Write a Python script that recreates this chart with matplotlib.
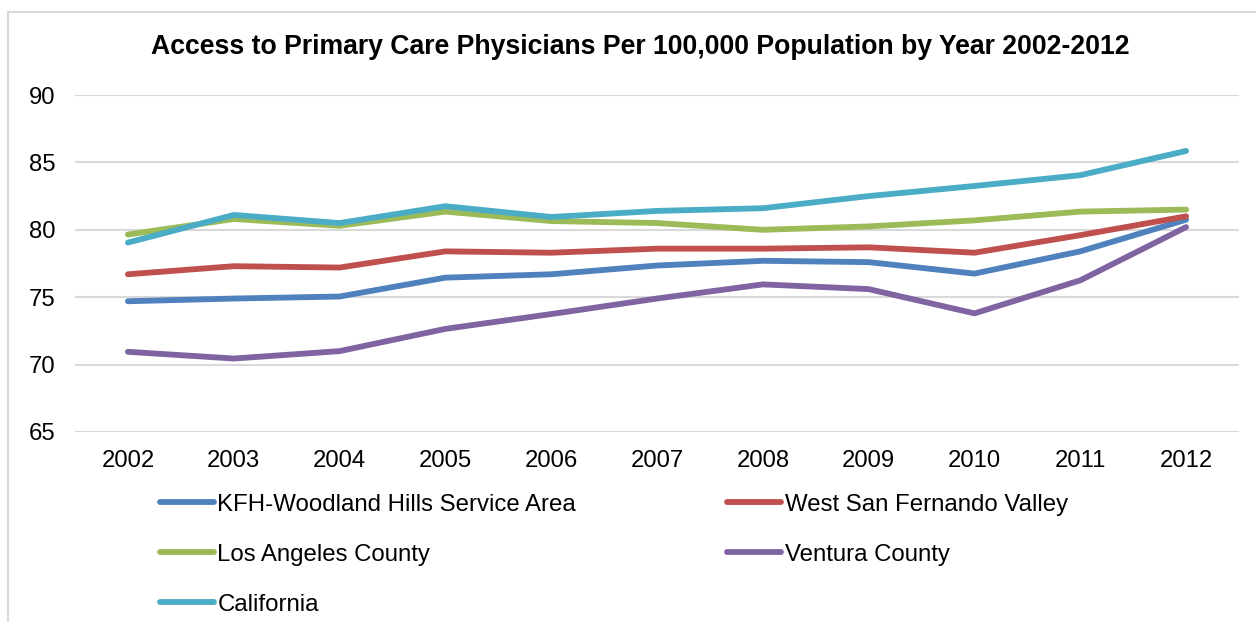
"""Primary care physicians per 100,000 population, 2002-2012."""
import matplotlib

matplotlib.use("Agg")
import matplotlib.pyplot as plt
from matplotlib.patches import Rectangle

plt.rcParams["font.family"] = ["Liberation Sans", "DejaVu Sans"]

YEARS = ["2002", "2003", "2004", "2005", "2006", "2007",
         "2008", "2009", "2010", "2011", "2012"]
KFH_WOODLAND_HILLS = [74.7, 74.9, 75.05, 76.45, 76.7, 77.35, 77.7, 77.6, 76.75, 78.4, 80.75]
WEST_SFV = [76.7, 77.3, 77.2, 78.4, 78.3, 78.6, 78.6, 78.7, 78.3, 79.6, 81.0]
LA_COUNTY = [79.65, 80.8, 80.3, 81.35, 80.65, 80.5, 80.0, 80.25, 80.7, 81.35, 81.5]
VENTURA = [70.95, 70.45, 71.0, 72.65, 73.75, 74.9, 75.95, 75.6, 73.8, 76.25, 80.2]
CALIFORNIA = [79.05, 81.1, 80.5, 81.75, 80.95, 81.4, 81.6, 82.5, 83.25, 84.05, 85.85]

SERIES = [
    ("KFH-Woodland Hills Service Area", KFH_WOODLAND_HILLS, "#4F81BD"),
    ("West San Fernando Valley", WEST_SFV, "#C0504D"),
    ("Los Angeles County", LA_COUNTY, "#9BBB59"),
    ("Ventura County", VENTURA, "#8064A2"),
    ("California", CALIFORNIA, "#4BACC6"),
]

W, H = 1256, 622
fig = plt.figure(figsize=(W / 100, H / 100), dpi=100)
ax = fig.add_axes([75 / W, 1 - 432 / H, 1164 / W, 337 / H])

# light chart border (top and left edges visible)
fig.patches.append(
    Rectangle((8 / W, -0.1), 1.2, 1 - 12 / H + 0.1, transform=fig.transFigure,
              fill=False, edgecolor="#D9D9D9", linewidth=1.5)
)

lines = {}
for name, values, color in SERIES:
    (line,) = ax.plot(range(len(YEARS)), values, color=color, linewidth=4.2,
                      solid_capstyle="round", solid_joinstyle="round",
                      label=name, zorder=3)
    lines[name] = line

ax.set_xlim(-0.5, len(YEARS) - 0.5)
ax.set_ylim(65, 90)
ax.set_yticks(range(65, 91, 5))
ax.set_xticks(range(len(YEARS)))
ax.set_xticklabels(YEARS)
ax.grid(axis="y", color="#D9D9D9", linewidth=1.5, zorder=0)
ax.tick_params(length=0, labelsize=17.2, colors="black")
ax.tick_params(axis="y", pad=14)
ax.tick_params(axis="x", pad=13)
for spine in ax.spines.values():
    spine.set_visible(False)

fig.text(640 / W, 1 - 47 / H,
         "Access to Primary Care Physicians Per 100,000 Population by Year 2002-2012",
         ha="center", va="center", fontsize=19.2, fontweight="bold")

order = ["KFH-Woodland Hills Service Area", "Los Angeles County", "California",
         "West San Fernando Valley", "Ventura County"]
fig.legend([lines[n] for n in order], order, ncol=2, frameon=False,
           loc="upper left", bbox_to_anchor=(150 / W, 1 - 484 / H),
           fontsize=17.3, handlelength=2.25, handletextpad=0.15,
           columnspacing=6.3, labelspacing=1.17, borderaxespad=0)

fig.savefig("out.png", dpi=100)
